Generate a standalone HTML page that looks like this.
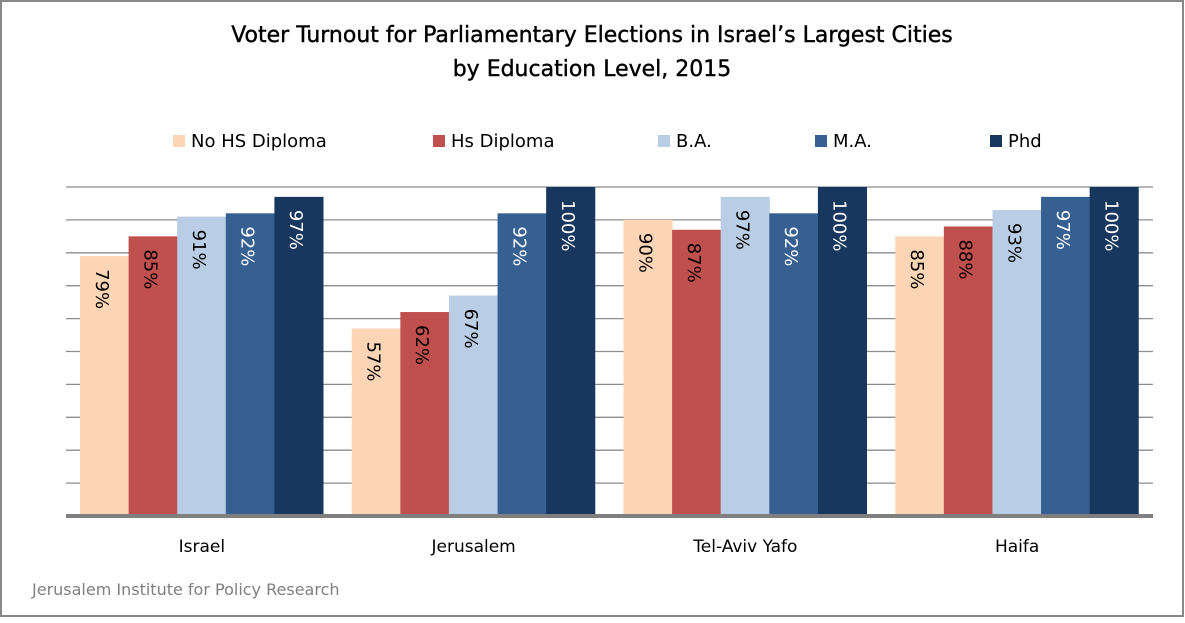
<!DOCTYPE html>
<html><head><meta charset="utf-8"><style>
body{margin:0;background:#fff}
svg text{font-family:"DejaVu Sans","Liberation Sans",sans-serif}
</style></head><body>
<svg id="chart" width="1185" height="618" viewBox="0 0 1185 618">
<rect x="1" y="1" width="1182" height="615" fill="#fff" stroke="#888" stroke-width="2"/>
<text x="592" y="42" text-anchor="middle" font-size="22" fill="#000" stroke="#000" stroke-width="0.4">Voter Turnout for Parliamentary Elections in Israel’s Largest Cities</text>
<text x="592" y="76" text-anchor="middle" font-size="22" fill="#000" stroke="#000" stroke-width="0.4">by Education Level, 2015</text>
<g id="grid"></g><g id="bars"></g><g id="legend"></g><g id="cats"></g>
<text x="32" y="595" font-size="16" fill="#7f7f7f">Jerusalem Institute for Policy Research</text>
</svg>
<script>
const categories=["Israel","Jerusalem","Tel-Aviv Yafo","Haifa"];
const seriesNames=["No HS Diploma","Hs Diploma","B.A.","M.A.","Phd"];
const noHS=[79,57,90,85];
const hsDip=[85,62,87,88];
const ba=[91,67,97,93];
const ma=[92,92,92,97];
const phd=[97,100,100,100];
const series=[noHS,hsDip,ba,ma,phd];
const colors=["#FBD5B5","#C0504D","#B9CDE5","#376092","#17375E"];
const textColors=["#000","#000","#000","#fff","#fff"];
const NS="http://www.w3.org/2000/svg";
const X0=66,X1=1153,Y0=516,Y1=187;
const y=v=>Y0-(v/100)*(Y0-Y1);
const gw=(X1-X0)/categories.length, bw=48.6, pad=14;
function mk(t,a,p){const e=document.createElementNS(NS,t);for(const k in a)e.setAttribute(k,a[k]);p.appendChild(e);return e;}
const grid=document.getElementById('grid');
for(let v=10;v<=100;v+=10){
 const l=mk('line',{x1:X0,x2:X1,y1:y(v),y2:y(v),stroke:'#8c8c8c','stroke-width':1.3},grid);
 
 
}
const bars=document.getElementById('bars');
categories.forEach((c,i)=>{
 series.forEach((s,j)=>{
  const x=X0+i*gw+pad+j*bw, v=s[i];
  const r=mk('rect',{x:x,y:y(v),width:bw+0.5,height:Y0-y(v),fill:colors[j]},bars);
  
  
  const cx=x+bw/2-3, ty=y(v)+13;
  const t=mk('text',{x:cx,y:ty,'font-size':18,fill:textColors[j],'dominant-baseline':'central',transform:`rotate(90 ${cx} ${ty})`},bars);
  t.textContent=v+'%';
  
  
 });
 const ct=mk('text',{x:X0+i*gw+gw/2,y:552,'text-anchor':'middle','font-size':17,fill:'#000'},document.getElementById('cats'));
 ct.textContent=c;
 
 
});
const base=mk('line',{x1:X0,x2:X1,y1:Y0,y2:Y0,stroke:'#7f7f7f','stroke-width':4},bars);


const lg=document.getElementById('legend');
const lx=[173,433,658,815,990];
seriesNames.forEach((n,j)=>{
 const g=mk('g',{},lg);
 
 
 mk('rect',{x:lx[j],y:135,width:12,height:12,fill:colors[j]},g);
 const t=mk('text',{x:lx[j]+18,y:147,'font-size':18,fill:'#000'},g);
 t.textContent=n;
});
</script>
</body></html>
